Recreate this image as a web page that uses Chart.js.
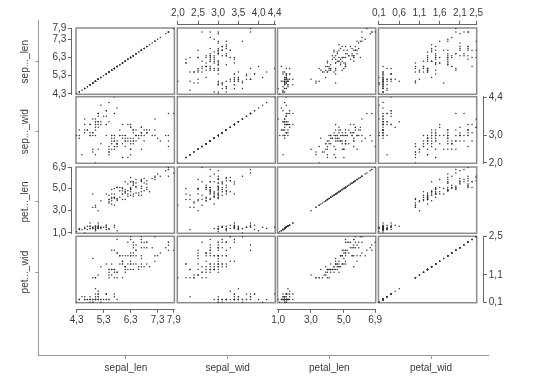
<!DOCTYPE html>
<html>
<head>
<meta charset="utf-8">
<script src="https://cdn.jsdelivr.net/npm/chart.js@4"></script>
<style>
  body { margin: 0; background: #fff; }
  #stage { position: relative; width: 540px; height: 387px; }
  #stage canvas { position: absolute; left: 0; top: 0; }
</style>
</head>
<body>
<div id="stage"></div>
<script>
const names = ['sepal_len', 'sepal_wid', 'petal_len', 'petal_wid']
const shortNames = ['sep..._len', 'sep..._wid', 'pet..._len', 'pet..._wid']

const sepalLen = [5.1,4.9,4.7,4.6,5.0,5.4,4.6,5.0,4.4,4.9,5.4,4.8,4.8,4.3,5.8,5.7,5.4,5.1,5.7,5.1,5.4,5.1,4.6,5.1,4.8,5.0,5.0,5.2,5.2,4.7,4.8,5.4,5.2,5.5,4.9,5.0,5.5,4.9,4.4,5.1,5.0,4.5,4.4,5.0,5.1,4.8,5.1,4.6,5.3,5.0,
  7.0,6.4,6.9,5.5,6.5,5.7,6.3,4.9,6.6,5.2,5.0,5.9,6.0,6.1,5.6,6.7,5.6,5.8,6.2,5.6,5.9,6.1,6.3,6.1,6.4,6.6,6.8,6.7,6.0,5.7,5.5,5.5,5.8,6.0,5.4,6.0,6.7,6.3,5.6,5.5,5.5,6.1,5.8,5.0,5.6,5.7,5.7,6.2,5.1,5.7,
  6.3,5.8,7.1,6.3,6.5,7.6,4.9,7.3,6.7,7.2,6.5,6.4,6.8,5.7,5.8,6.4,6.5,7.7,7.7,6.0,6.9,5.6,7.7,6.3,6.7,7.2,6.2,6.1,6.4,7.2,7.4,7.9,6.4,6.3,6.1,7.7,6.3,6.4,6.0,6.9,6.7,6.9,5.8,6.8,6.7,6.7,6.3,6.5,6.2,5.9]
const sepalWid = [3.5,3.0,3.2,3.1,3.6,3.9,3.4,3.4,2.9,3.1,3.7,3.4,3.0,3.0,4.0,4.4,3.9,3.5,3.8,3.8,3.4,3.7,3.6,3.3,3.4,3.0,3.4,3.5,3.4,3.2,3.1,3.4,4.1,4.2,3.1,3.2,3.5,3.6,3.0,3.4,3.5,2.3,3.2,3.5,3.8,3.0,3.8,3.2,3.7,3.3,
  3.2,3.2,3.1,2.3,2.8,2.8,3.3,2.4,2.9,2.7,2.0,3.0,2.2,2.9,2.9,3.1,3.0,2.7,2.2,2.5,3.2,2.8,2.5,2.8,2.9,3.0,2.8,3.0,2.9,2.6,2.4,2.4,2.7,2.7,3.0,3.4,3.1,2.3,3.0,2.5,2.6,3.0,2.6,2.3,2.7,3.0,2.9,2.9,2.5,2.8,
  3.3,2.7,3.0,2.9,3.0,3.0,2.5,2.9,2.5,3.6,3.2,2.7,3.0,2.5,2.8,3.2,3.0,3.8,2.6,2.2,3.2,2.8,2.8,2.7,3.3,3.2,2.8,3.0,2.8,3.0,2.8,3.8,2.8,2.8,2.6,3.0,3.4,3.1,3.0,3.1,3.1,3.1,2.7,3.2,3.3,3.0,2.5,3.0,3.4,3.0]
const petalLen = [1.4,1.4,1.3,1.5,1.4,1.7,1.4,1.5,1.4,1.5,1.5,1.6,1.4,1.1,1.2,1.5,1.3,1.4,1.7,1.5,1.7,1.5,1.0,1.7,1.9,1.6,1.6,1.5,1.4,1.6,1.6,1.5,1.5,1.4,1.5,1.2,1.3,1.4,1.3,1.5,1.3,1.3,1.3,1.6,1.9,1.4,1.6,1.4,1.5,1.4,
  4.7,4.5,4.9,4.0,4.6,4.5,4.7,3.3,4.6,3.9,3.5,4.2,4.0,4.7,3.6,4.4,4.5,4.1,4.5,3.9,4.8,4.0,4.9,4.7,4.3,4.4,4.8,5.0,4.5,3.5,3.8,3.7,3.9,5.1,4.5,4.5,4.7,4.4,4.1,4.0,4.4,4.6,4.0,3.3,4.2,4.2,4.2,4.3,3.0,4.1,
  6.0,5.1,5.9,5.6,5.8,6.6,4.5,6.3,5.8,6.1,5.1,5.3,5.5,5.0,5.1,5.3,5.5,6.7,6.9,5.0,5.7,4.9,6.7,4.9,5.7,6.0,4.8,4.9,5.6,5.8,6.1,6.4,5.6,5.1,5.6,6.1,5.6,5.5,4.8,5.4,5.6,5.1,5.1,5.9,5.7,5.2,5.0,5.2,5.4,5.1]
const petalWid = [0.2,0.2,0.2,0.2,0.2,0.4,0.3,0.2,0.2,0.1,0.2,0.2,0.1,0.1,0.2,0.4,0.4,0.3,0.3,0.3,0.2,0.4,0.2,0.5,0.2,0.2,0.4,0.2,0.2,0.2,0.2,0.4,0.1,0.2,0.2,0.2,0.2,0.1,0.2,0.2,0.3,0.3,0.2,0.6,0.4,0.3,0.2,0.2,0.2,0.2,
  1.4,1.5,1.5,1.3,1.5,1.3,1.6,1.0,1.3,1.4,1.0,1.5,1.0,1.4,1.3,1.4,1.5,1.0,1.5,1.1,1.8,1.3,1.5,1.2,1.3,1.4,1.4,1.7,1.5,1.0,1.1,1.0,1.2,1.6,1.5,1.6,1.5,1.3,1.3,1.3,1.2,1.4,1.2,1.0,1.3,1.2,1.3,1.3,1.1,1.3,
  2.5,1.9,2.1,1.8,2.2,2.1,1.7,1.8,1.8,2.5,2.0,1.9,2.1,2.0,2.4,2.3,1.8,2.2,2.3,1.5,2.3,2.0,2.0,1.8,2.1,1.8,1.8,1.8,2.1,1.6,1.9,2.0,2.2,1.5,1.4,2.3,2.4,1.8,1.8,2.1,2.4,2.3,1.9,2.3,2.5,2.3,1.9,2.0,2.3,1.8]

// tick labels of the little axes round the matrix
const ticksSepalLen = [4.3, 5.3, 6.3, 7.3, 7.9]
const ticksSepalWidTop = [2.0, 2.5, 3.0, 3.5, 4.0, 4.4]
const ticksSepalWidRight = [2.0, 3.0, 4.4]
const ticksPetalLen = [1.0, 3.0, 5.0, 6.9]
const ticksPetalWidTop = [0.1, 0.6, 1.1, 1.6, 2.1, 2.5]
const ticksPetalWidRight = [0.1, 1.1, 2.5]

const series = [sepalLen, sepalWid, petalLen, petalWid]

// layout
const W = 540, H = 387
const colX = [[76, 174.4], [177.3, 275.3], [277.5, 375.7], [378.4, 476.7]]
const rowY = [[28, 94.3], [96.7, 163.3], [167, 233.3], [236.3, 302.7]]
const axisLine = { top: 24.3, bottom: 309.3, left: 71.3, right: 483.3 }

Chart.defaults.font.family = '"Liberation Sans", Arial, sans-serif'
Chart.defaults.font.size = 10
Chart.defaults.color = '#3a3a3a'

const lim = series.map(a => {
  const lo = Math.min(...a), hi = Math.max(...a), p = (hi - lo) * 0.006
  return [lo - p, hi + p]
})

const stage = document.getElementById('stage')
const newCanvas = () => {
  const c = document.createElement('canvas')
  c.width = W
  c.height = H
  stage.appendChild(c)
  return c
}

const base = {
  responsive: false,
  animation: false,
  events: [],
  devicePixelRatio: 1,
  plugins: { legend: { display: false }, tooltip: { enabled: false } }
}

const frame = {
  id: 'frame',
  beforeDatasetsDraw(chart) {
    const a = chart.chartArea, ctx = chart.ctx
    ctx.save()
    ctx.strokeStyle = '#8c8c8c'
    ctx.lineWidth = 1.5
    ctx.strokeRect(a.left, a.top, a.right - a.left, a.bottom - a.top)
    ctx.restore()
  }
}

// one scatter panel per pair of variables
const panel = (r, c) => {
  const [x0, x1] = colX[c], [y0, y1] = rowY[r]
  const pts = series[c].map((v, k) => ({ x: v, y: series[r][k] }))
  new Chart(newCanvas(), {
    type: 'scatter',
    data: { datasets: [{ data: pts, pointRadius: 0.75, pointBorderWidth: 0, pointBackgroundColor: '#333' }] },
    options: {
      ...base,
      layout: { padding: { left: x0, right: W - x1, top: y0, bottom: H - y1 } },
      scales: {
        x: { display: false, min: lim[c][0], max: lim[c][1] },
        y: { display: false, min: lim[r][0], max: lim[r][1] }
      }
    },
    plugins: [frame]
  })
}

// a lone tick axis next to a panel
const axis = (side, v, ticks, pos) => {
  const horiz = side === 'top' || side === 'bottom'
  const [a0, a1] = horiz ? colX[pos] : rowY[pos]
  const line = axisLine[side]
  const pad = {}
  if (horiz) {
    pad.left = a0; pad.right = W - a1
    if (side === 'top') { pad.top = line - 20; pad.bottom = H - line - 1 }
    else { pad.top = line - 1; pad.bottom = H - line - 20 }
  } else {
    pad.top = a0; pad.bottom = H - a1
    if (side === 'left') { pad.left = line - 30; pad.right = W - line - 1 }
    else { pad.left = line - 1; pad.right = W - line - 30 }
  }
  const shown = {
    type: 'linear',
    position: side,
    min: lim[v][0],
    max: lim[v][1],
    afterFit: s => { if (horiz) s.height = 20; else s.width = 30 },
    afterBuildTicks: s => { s.ticks = ticks.map(t => ({ value: t })) },
    grid: { drawOnChartArea: false, tickLength: 3.5, color: '#666' },
    border: { color: '#666' },
    ticks: {
      autoSkip: false, maxRotation: 0, minRotation: 0,
      padding: side === 'right' ? 2 : 1.5,
      callback: t => t.toFixed(1).replace('.', ',')
    }
  }
  const hidden = { display: false }
  new Chart(newCanvas(), {
    type: 'scatter',
    data: { datasets: [] },
    options: { ...base, layout: { padding: pad }, scales: horiz ? { x: shown, y: hidden } : { x: hidden, y: shown } }
  })
}

// outer frame with the variable names
const sideNames = {
  id: 'sideNames',
  afterDraw(chart) {
    const s = chart.scales.y, ctx = chart.ctx
    ctx.save()
    ctx.font = '10px "Liberation Sans", Arial, sans-serif'
    ctx.fillStyle = '#3a3a3a'
    ctx.textAlign = 'center'
    ctx.textBaseline = 'middle'
    shortNames.forEach((n, i) => {
      ctx.save()
      ctx.translate(25, s.getPixelForValue(i))
      ctx.rotate(-Math.PI / 2)
      ctx.fillText(n, 0, 0)
      ctx.restore()
    })
    ctx.restore()
  }
}

new Chart(newCanvas(), {
  type: 'scatter',
  data: { datasets: [] },
  options: {
    ...base,
    layout: { padding: { left: 38.3 - 20, right: W - 488, top: 20, bottom: H - 355 - 25 } },
    scales: {
      x: {
        min: -0.8626, max: 3.5606,
        afterFit: s => { s.height = 25 },
        afterBuildTicks: s => { s.ticks = names.map((n, i) => ({ value: i })) },
        grid: { drawOnChartArea: false, tickLength: 4, color: '#999' },
        border: { color: '#999' },
        ticks: { autoSkip: false, maxRotation: 0, padding: 3, callback: v => names[v] }
      },
      y: {
        reverse: true,
        min: -0.595, max: 4.184,
        afterFit: s => { s.width = 20 },
        afterBuildTicks: s => { s.ticks = shortNames.map((n, i) => ({ value: i })) },
        grid: { drawOnChartArea: false, tickLength: 3, color: '#999' },
        border: { color: '#999' },
        ticks: { display: false }
      }
    }
  },
  plugins: [sideNames]
})

for (let r = 0; r < 4; r++) {
  for (let c = 0; c < 4; c++) panel(r, c)
}

axis('top', 1, ticksSepalWidTop, 1)
axis('top', 3, ticksPetalWidTop, 3)
axis('bottom', 0, ticksSepalLen, 0)
axis('bottom', 2, ticksPetalLen, 2)
axis('left', 0, ticksSepalLen, 0)
axis('left', 2, ticksPetalLen, 2)
axis('right', 1, ticksSepalWidRight, 1)
axis('right', 3, ticksPetalWidRight, 3)
</script>
</body>
</html>
